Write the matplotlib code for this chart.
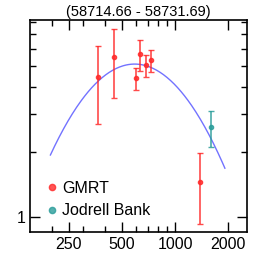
import numpy as np
import matplotlib
matplotlib.use("Agg")
import matplotlib.pyplot as plt
from matplotlib.ticker import FixedLocator, FixedFormatter, NullFormatter
from matplotlib.lines import Line2D

plt.rcParams['font.family'] = ['Liberation Sans', 'DejaVu Sans']

title = "(58714.66 - 58731.69)"

gmrt_freq = [365, 453, 598, 633, 684, 728, 1387]
gmrt_flux = [4.45, 5.47, 4.39, 5.67, 5.03, 5.30, 1.46]
gmrt_err = [1.75, 1.92, 0.51, 0.92, 0.57, 0.60, 0.53]

jb_freq = [1590]
jb_flux = [2.60]
jb_err = [0.48]

# fitted curved power-law model (log-parabola)
model_peak_freq = 591.0
model_peak_flux = 5.10
model_curv = -1.845
model_range = [197, 1915]

xticks_major = [250, 500, 1000, 2000]
xticks_minor = [200, 300, 400, 600, 700, 800, 900]
yticks_major = [1]
yticks_minor = [2, 3, 4, 5, 6, 7, 8]

fig = plt.figure(figsize=(2.66, 2.56), dpi=100)
ax = fig.add_axes([0.1128, 0.0938, 0.8158, 0.8281])
ax.set_xscale('log')
ax.set_yscale('log')

nu = np.logspace(np.log10(model_range[0]), np.log10(model_range[1]), 200)
s = 10 ** (np.log10(model_peak_flux) + model_curv * (np.log10(nu / model_peak_freq)) ** 2)
ax.plot(nu, s, color='#5a5aff', lw=1.0, alpha=0.85, zorder=2)

ax.errorbar(gmrt_freq, gmrt_flux, yerr=gmrt_err, fmt='o', color='#ff2a2a', ms=3.0,
            elinewidth=1.2, capsize=2.5, capthick=1.0, alpha=0.85, label='GMRT', zorder=3)
ax.errorbar(jb_freq, jb_flux, yerr=jb_err, fmt='o', color='#2a9d9a', ms=3.0,
            elinewidth=1.2, capsize=2.5, capthick=1.0, alpha=0.85, label='Jodrell Bank', zorder=3)

ax.set_xlim(151, 2555)
ax.set_ylim(0.855, 8.15)

ax.xaxis.set_major_locator(FixedLocator(xticks_major))
ax.xaxis.set_major_formatter(FixedFormatter([str(v) for v in xticks_major]))
ax.xaxis.set_minor_locator(FixedLocator(xticks_minor))
ax.xaxis.set_minor_formatter(NullFormatter())
ax.yaxis.set_major_locator(FixedLocator(yticks_major))
ax.yaxis.set_major_formatter(FixedFormatter([str(v) for v in yticks_major]))
ax.yaxis.set_minor_locator(FixedLocator(yticks_minor))
ax.yaxis.set_minor_formatter(NullFormatter())

ax.tick_params(which='both', direction='in', top=True, right=True, labelsize=11.5, width=1.0)
ax.tick_params(which='major', length=7)
ax.tick_params(which='minor', length=4)
for sp in ax.spines.values():
    sp.set_linewidth(1.2)

ax.set_title(title, fontsize=10.5, pad=3)

handles, labels = ax.get_legend_handles_labels()
h = [Line2D([], [], marker='o', ls='', color='#ff2a2a', alpha=0.8, ms=4.5),
     Line2D([], [], marker='o', ls='', color='#2a9d9a', alpha=0.8, ms=4.5)]
ax.legend(h, labels, loc='lower left', frameon=False, fontsize=11.5,
          handletextpad=0.1, handlelength=1.0, borderaxespad=0.3, labelspacing=0.45,
          bbox_to_anchor=(0.015, 0.012))

fig.savefig('out.png', dpi=100)
